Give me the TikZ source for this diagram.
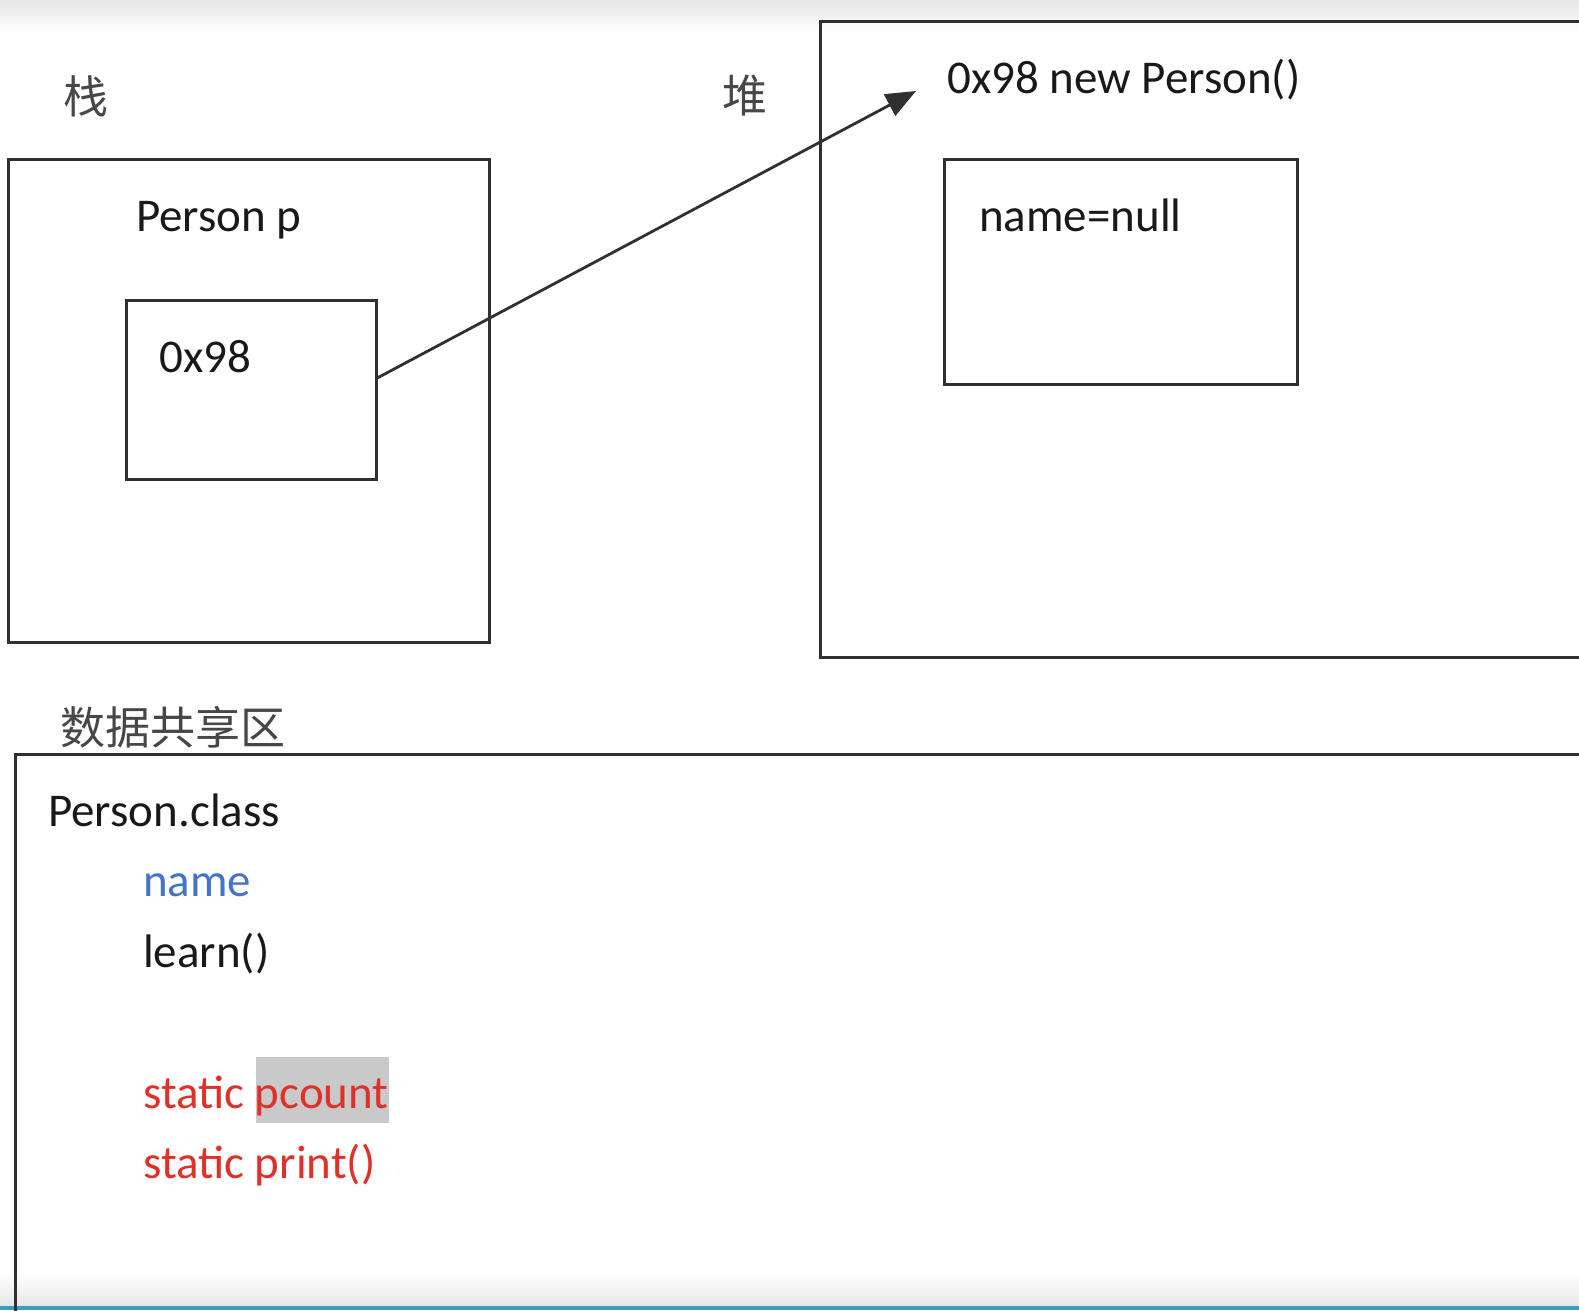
\documentclass[tikz,border=0pt]{standalone}
\usepackage{fontspec}
\setmainfont{Carlito}
\newfontfamily\cjk{Noto Sans CJK SC}
\usetikzlibrary{arrows.meta,calc}
\definecolor{inkline}{HTML}{303030}
\definecolor{namblue}{HTML}{4574C6}
\definecolor{statred}{HTML}{E0302A}
\definecolor{hlgrey}{HTML}{C9C9C9}
\definecolor{topgrey}{HTML}{E6E6E6}
\definecolor{teal}{HTML}{3A9DBA}
\tikzset{
  box/.style={draw=inkline, line width=2.6pt, inner sep=0pt, anchor=north west},
  lbl/.style={anchor=base west, inner sep=0pt, font=\fontsize{47}{56}\selectfont, text=black!90},
  cjklbl/.style={anchor=center, inner sep=0pt, font=\cjk\fontsize{45}{54}\selectfont, text=black!72},
  conn/.style={draw=inkline, line width=2.8pt, -{Triangle[length=30pt,width=24pt]}}
}
\begin{document}
\begin{tikzpicture}[x=1pt,y=-1pt]
\useasboundingbox (0,0) rectangle (1579,1310);
\begin{scope}
\clip (0,0) rectangle (1579,1310);
% screen gradients
\fill[top color=topgrey, bottom color=white] (0,0) rectangle (1579,32);
\fill[top color=white, bottom color=topgrey] (0,1272) rectangle (1579,1306);
\fill[teal] (0,1306) rectangle (1579,1310);

% labels
\node[cjklbl] (zhan) at (86,96) {栈};
\node[cjklbl] (dui) at (745,96) {堆};

% stack
\node[box, minimum width=481pt, minimum height=483pt] (stack) at (7,158) {};
\node[lbl] (pp) at (136,231) {Person p};
\node[box, minimum width=250pt, minimum height=179pt] (ref) at (125,299) {};
\node[lbl] (addr) at (159,372) {0x98};

% heap
\node[box, minimum width=800pt, minimum height=636pt] (heap) at (819,20) {};
\node[lbl] (obj) at (947,93) {0x98 new Person()};
\node[box, minimum width=353pt, minimum height=225pt] (fld) at (943,158) {};
\node[lbl] (nn) at (979,231) {name=null};

\coordinate (tip) at (916,91);
\draw[conn] ([yshift=12pt]ref.east) -- (tip);

% shared data area
\node[cjklbl, anchor=west] (share) at (60,727) {数据共享区};
\node[box, minimum width=1700pt, minimum height=700pt] (data) at (14,753) {};
\node[lbl] (pc) at (48,826) {Person.class};
\node[lbl, text=namblue] (nm) at (143,896) {name};
\node[lbl] (ln) at (143,967) {learn()};
\node[anchor=north west, fill=hlgrey, minimum width=133pt, minimum height=66pt, inner sep=0pt] (hl) at (256,1057) {};
\node[lbl, text=statred] (sp) at (143,1108) {static pcount};
\node[lbl, text=statred] (spr) at (143,1178) {static print()};
\end{scope}
\end{tikzpicture}
\end{document}
